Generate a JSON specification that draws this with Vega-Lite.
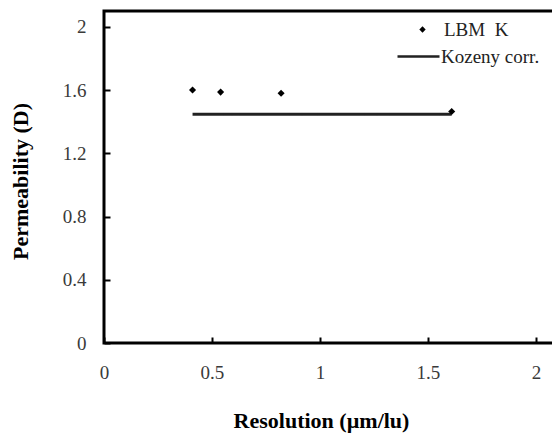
{
  "$schema": "https://vega.github.io/schema/vega-lite/v6.json",
  "width": 452,
  "height": 332,
  "autosize": "none",
  "padding": {"left": 104, "top": 11, "right": 0, "bottom": 92},
  "background": "white",
  "config": {
    "view": {"stroke": "black", "strokeWidth": 3},
    "font": "Liberation Serif",
    "axis": {
      "grid": false,
      "domain": false,
      "zindex": 1,
      "offset": -6,
      "ticks": true,
      "tickColor": "black",
      "tickWidth": 2,
      "tickSize": 6,
      "labelFlush": false,
      "labelFont": "Liberation Serif",
      "labelFontSize": 19,
      "labelColor": "#3a3a3a",
      "format": "~g",
      "titleFont": "Liberation Serif",
      "titleFontSize": 22,
      "titleFontWeight": "bold",
      "titleColor": "black"
    },
    "legend": {
      "labelFont": "Liberation Serif",
      "labelFontSize": 19,
      "labelColor": "#222222",
      "title": null
    }
  },
  "layer": [
    {
      "data": {"values": [
        {"res": 0.41, "k": 1.447, "series": "Kozeny corr."},
        {"res": 1.61, "k": 1.447, "series": "Kozeny corr."}
      ]},
      "mark": {"type": "line", "color": "#222222", "strokeWidth": 3},
      "encoding": {
        "x": {"field": "res", "type": "quantitative", "scale": {"domain": [0, 2.093], "nice": false},
          "axis": {"values": [0, 0.5, 1, 1.5, 2], "title": "Resolution (µm/lu)", "labelPadding": 20, "titlePadding": 28, "titleX": 217}},
        "y": {"field": "k", "type": "quantitative", "scale": {"domain": [0, 2.1], "nice": false},
          "axis": {"values": [0, 0.4, 0.8, 1.2, 1.6, 2], "title": "Permeability (D)", "labelPadding": 18, "titlePadding": 30, "titleY": 170}},
        "strokeDash": {"field": "series", "type": "nominal",
          "scale": {"range": [[1, 0]]},
          "legend": {"orient": "none", "legendX": 292, "legendY": 23, "symbolType": "stroke", "symbolSize": 1764, "symbolStrokeWidth": 2.5, "symbolStrokeColor": "#222222", "labelOffset": 0}}
      }
    },
    {
      "data": {"values": [
        {"res": 0.41, "k": 1.60, "series": "LBM  K"},
        {"res": 0.54, "k": 1.587, "series": "LBM  K"},
        {"res": 0.82, "k": 1.58, "series": "LBM  K"},
        {"res": 1.61, "k": 1.464, "series": "LBM  K"}
      ]},
      "mark": {"type": "point", "filled": true, "color": "black", "size": 50, "opacity": 1},
      "encoding": {
        "x": {"field": "res", "type": "quantitative"},
        "y": {"field": "k", "type": "quantitative"},
        "shape": {"field": "series", "type": "nominal",
          "scale": {"range": ["diamond"]},
          "legend": {"orient": "none", "legendX": 309, "legendY": 9, "symbolFillColor": "black", "symbolStrokeColor": "black", "symbolSize": 40, "labelOffset": 12,
            "labelExpr": "'LBM\u00a0\u00a0K'"}}
      }
    }
  ]
}
